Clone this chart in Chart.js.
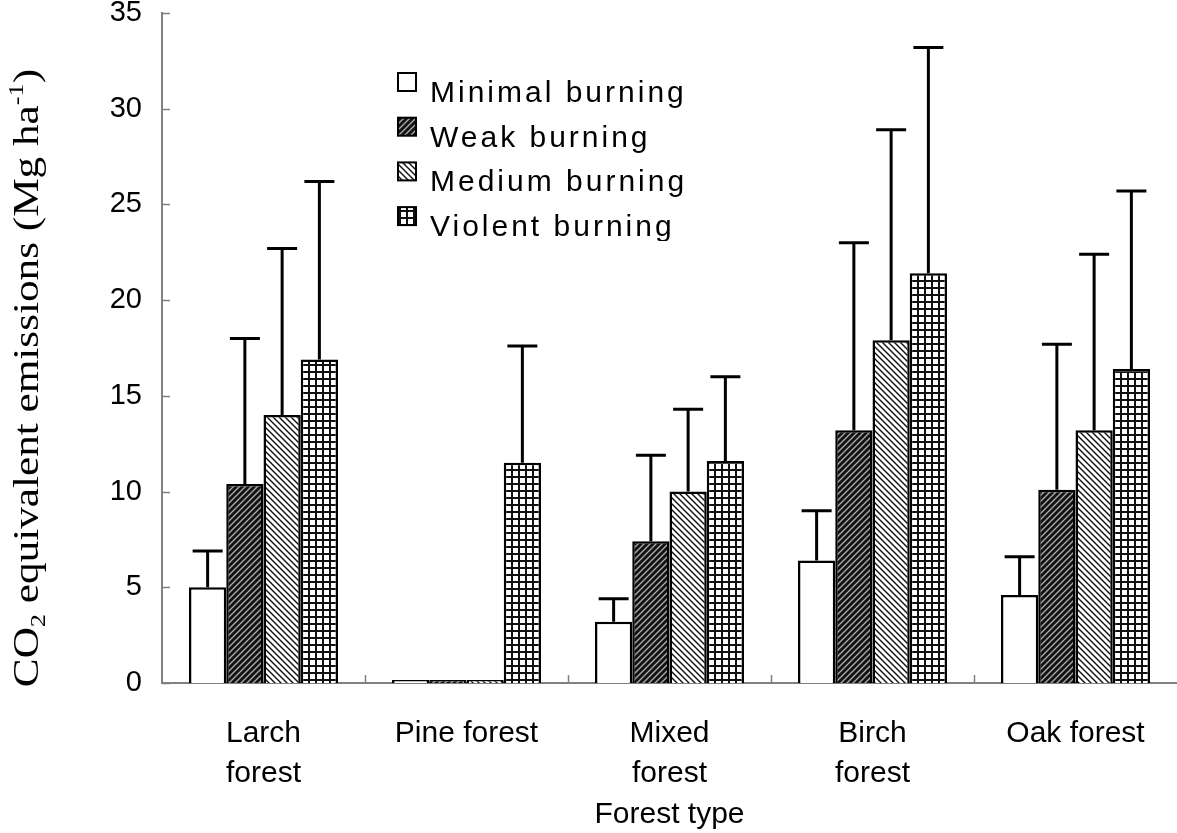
<!DOCTYPE html>
<html><head><meta charset="utf-8">
<script src="https://cdn.jsdelivr.net/npm/chart.js@4/dist/chart.umd.min.js"></script>
<style>html,body{margin:0;padding:0;background:#fff}canvas{display:block}</style>
</head><body>
<canvas id="c" width="1177" height="833"></canvas>
<script>
// ---- data ----
const categories = [["Larch", "forest"], "Pine forest", ["Mixed", "forest"], ["Birch", "forest"], "Oak forest"];
const seriesNames = ["Minimal burning", "Weak burning", "Medium burning", "Violent burning"];
const minimal = [5.0, 0, 3.2, 6.4, 4.6];
const weak    = [10.4, 0, 7.4, 13.2, 10.1];
const medium  = [14.0, 0, 10.0, 17.9, 13.2];
const violent = [16.9, 11.5, 11.6, 21.4, 16.4];
const minimalErr = [1.9, 0, 1.2, 2.6, 2.0];
const weakErr    = [7.6, 0, 4.5, 9.8, 7.6];
const mediumErr  = [8.7, 0, 4.3, 11.0, 9.2];
const violentErr = [9.3, 6.1, 4.4, 11.8, 9.3];
const yTicks = [0, 5, 10, 15, 20, 25, 30, 35];
const xTitle = "Forest type";
const yTitleParts = [["CO", "n"], ["2", "sub"], [" equivalent emissions (Mg ha", "n"], ["-1", "sup"], [")", "n"]];

// ---- patterns ----
function tile(s, draw) {
  const c = document.createElement('canvas'); c.width = s; c.height = s;
  const g = c.getContext('2d'); draw(g, s);
  return document.getElementById('c').getContext('2d').createPattern(c, 'repeat');
}
const patWhite = '#ffffff';
const patWeak = tile(6, (g, s) => {
  g.fillStyle = '#111'; g.fillRect(0, 0, s, s);
  g.strokeStyle = '#a8a8a8'; g.lineWidth = 1.4;
  [[0, s, s, 0], [-1, 1, 1, -1], [s - 1, s + 1, s + 1, s - 1]].forEach(l => { g.beginPath(); g.moveTo(l[0], l[1]); g.lineTo(l[2], l[3]); g.stroke(); });
});
const patMedium = tile(6, (g, s) => {
  g.fillStyle = '#fff'; g.fillRect(0, 0, s, s);
  g.strokeStyle = '#111'; g.lineWidth = 1.4;
  [[0, 0, s, s], [-1, s - 1, 1, s + 1], [s - 1, -1, s + 1, 1]].forEach(l => { g.beginPath(); g.moveTo(l[0], l[1]); g.lineTo(l[2], l[3]); g.stroke(); });
});
const patViolent = tile(7, (g, s) => {
  g.fillStyle = '#fff'; g.fillRect(0, 0, s, s);
  g.fillStyle = '#111'; g.fillRect(0, 0, 2, s); g.fillRect(0, 0, s, 2);
});

const FONT = "'Liberation Sans', Arial, sans-serif";

// ---- plugins ----
const errorBars = {
  id: 'errorBars',
  afterDatasetsDraw(chart) {
    const ctx = chart.ctx, y = chart.scales.y;
    ctx.save();
    ctx.strokeStyle = '#000'; ctx.lineWidth = 3;
    chart.data.datasets.forEach((ds, i) => {
      const meta = chart.getDatasetMeta(i);
      meta.data.forEach((bar, j) => {
        const e = ds.errors[j];
        if (!e) return;
        const top = y.getPixelForValue(ds.data[j] + e);
        ctx.beginPath();
        ctx.moveTo(bar.x, bar.y); ctx.lineTo(bar.x, top);
        ctx.moveTo(bar.x - 15, top); ctx.lineTo(bar.x + 15, top);
        ctx.stroke();
      });
    });
    ctx.restore();
  }
};

const innerTicks = {
  id: 'innerTicks',
  afterDraw(chart) {
    const ctx = chart.ctx, x = chart.scales.x, y = chart.scales.y, a = chart.chartArea;
    ctx.save();
    ctx.strokeStyle = '#808080'; ctx.lineWidth = 1.5;
    y.ticks.forEach(t => {
      const py = Math.round(y.getPixelForValue(t.value)) + 0.5;
      ctx.beginPath(); ctx.moveTo(a.left, py); ctx.lineTo(a.left + 8, py); ctx.stroke();
    });
    const w = (x.right - x.left) / categories.length;
    for (let i = 1; i < categories.length; i++) {
      const px = Math.round(x.getPixelForValue(i) - w / 2) + 0.5;
      ctx.beginPath(); ctx.moveTo(px, a.bottom); ctx.lineTo(px, a.bottom - 8); ctx.stroke();
    }
    ctx.restore();
  }
};

const yTitle = {
  id: 'yTitle',
  afterDraw(chart) {
    const ctx = chart.ctx, fs = 36, stretch = 1.2;
    ctx.save();
    ctx.fillStyle = '#000';
    ctx.textBaseline = 'alphabetic'; ctx.textAlign = 'left';
    const fontOf = k => (k === 'n' ? fs : Math.round(fs * 0.62)) + "px 'Liberation Serif', 'Times New Roman', serif";
    let total = 0;
    yTitleParts.forEach(p => { ctx.font = fontOf(p[1]); total += ctx.measureText(p[0]).width; });
    ctx.translate(38, 378); ctx.rotate(-Math.PI / 2); ctx.scale(stretch, 1);
    let u = -total / 2;
    yTitleParts.forEach(p => {
      ctx.font = fontOf(p[1]);
      const v = p[1] === 'sub' ? fs * 0.2 : (p[1] === 'sup' ? -fs * 0.42 : 0);
      ctx.fillText(p[0], u, v);
      u += ctx.measureText(p[0]).width;
    });
    ctx.restore();
  }
};

const boxLegend = {
  id: 'boxLegend',
  afterDraw(chart) {
    const ctx = chart.ctx;
    ctx.save();
    ctx.beginPath(); ctx.rect(0, 0, chart.width, 241); ctx.clip();
    chart.data.datasets.forEach((ds, i) => {
      const top = 73 + i * 44.7;
      ctx.fillStyle = ds.backgroundColor; ctx.fillRect(398, top, 18, 18);
      ctx.strokeStyle = '#000'; ctx.lineWidth = 2; ctx.strokeRect(398, top, 18, 18);
      ctx.fillStyle = '#000'; ctx.font = '30px ' + FONT;
      ctx.letterSpacing = '3px';
      ctx.textBaseline = 'alphabetic'; ctx.textAlign = 'left';
      ctx.fillText(ds.label, 430, top + 29);
    });
    ctx.restore();
  }
};

// ---- chart ----
const common = { borderColor: '#000', borderWidth: 2.5, minBarLength: 3 };
new Chart(document.getElementById('c'), {
  type: 'bar',
  data: {
    labels: categories,
    datasets: [
      Object.assign({ label: seriesNames[0], data: minimal, errors: minimalErr, backgroundColor: patWhite }, common),
      Object.assign({ label: seriesNames[1], data: weak, errors: weakErr, backgroundColor: patWeak }, common),
      Object.assign({ label: seriesNames[2], data: medium, errors: mediumErr, backgroundColor: patMedium }, common),
      Object.assign({ label: seriesNames[3], data: violent, errors: violentErr, backgroundColor: patViolent }, common)
    ]
  },
  options: {
    responsive: false, animation: false, devicePixelRatio: 1,
    layout: { padding: { left: 0, right: 0, top: 13, bottom: 0 } },
    datasets: { bar: { categoryPercentage: 0.734, barPercentage: 1.0 } },
    plugins: { legend: { display: false }, tooltip: { enabled: false }, title: { display: false } },
    scales: {
      x: {
        grid: { display: false, drawTicks: false },
        border: { display: true, color: '#808080', width: 2 },
        ticks: { color: '#000', font: { family: FONT, size: 30, lineHeight: 1.33 }, padding: 31, maxRotation: 0, autoSkip: false },
        title: { display: true, text: xTitle, color: '#000', font: { family: FONT, size: 30, lineHeight: 1.2 }, padding: { top: 0, bottom: 0 } },
        afterFit: s => { s.height = 150; s.paddingLeft = 0; s.paddingRight = 0; }
      },
      y: {
        min: 0, max: 35,
        grid: { display: false, drawTicks: false },
        border: { display: true, color: '#808080', width: 2 },
        ticks: { color: '#000', font: { family: FONT, size: 29 }, padding: 20, stepSize: 5 },
        afterBuildTicks: s => { s.ticks = yTicks.map(v => ({ value: v })); },
        afterFit: s => { s.width = 162; s.paddingTop = 0; s.paddingBottom = 0; }
      }
    }
  },
  plugins: [errorBars, innerTicks, yTitle, boxLegend]
});
</script>
</body></html>
